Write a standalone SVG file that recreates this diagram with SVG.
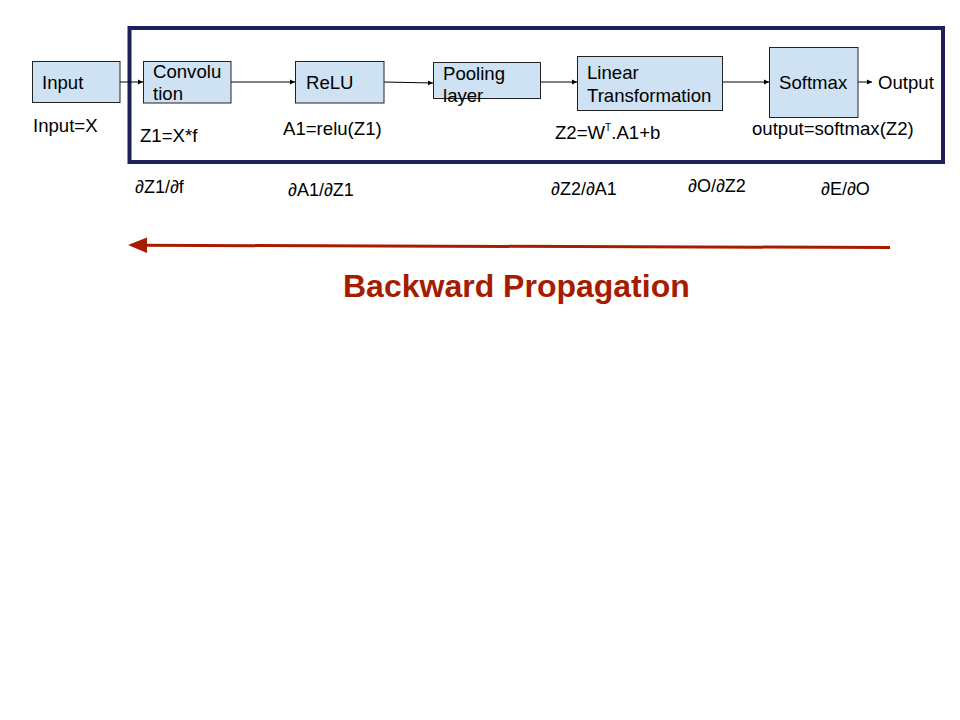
<svg xmlns="http://www.w3.org/2000/svg" width="960" height="720" viewBox="0 0 960 720">
<defs>
<style>
.box{fill:#cfe2f3;stroke:#222;stroke-width:1}
.t{font-family:"Liberation Sans",Arial,sans-serif;font-size:18.6px;fill:#000}
.d{font-family:"Liberation Sans",Arial,sans-serif;font-size:18px;fill:#000}
.c{stroke:#000;stroke-width:1;fill:none;marker-end:url(#ah)}
</style>
<marker id="ah" markerWidth="6" markerHeight="6" refX="5" refY="3" orient="auto" markerUnits="userSpaceOnUse">
<path d="M0,0.5 L5,3 L0,5.5 Z" fill="#000"/>
</marker>
</defs>
<rect width="960" height="720" fill="#fff"/>
<rect id="frame" x="129.5" y="28" width="813.5" height="134" fill="none" stroke="#1f1f5a" stroke-width="4"/>
<g id="connectors">
<line class="c" x1="120" y1="82" x2="143" y2="82"/>
<line class="c" x1="231" y1="82" x2="295" y2="82"/>
<line class="c" x1="384" y1="82" x2="433" y2="83"/>
<line class="c" x1="540" y1="82" x2="577" y2="82"/>
<line class="c" x1="723" y1="82" x2="769" y2="82"/>
<line class="c" x1="858" y1="82" x2="872" y2="82"/>
<g id="backward">
<line x1="890" y1="247.5" x2="144" y2="245.3" stroke="#a61c00" stroke-width="3"/>
<polygon points="128,245 147,237.5 147,253" fill="#a61c00"/>
</g>
</g>
<g id="input"><rect class="box" x="32.5" y="61.5" width="87.5" height="41"/><text class="t" x="42" y="89">Input</text></g>
<g id="conv"><rect class="box" x="143.5" y="61.5" width="87.5" height="41.5"/><text class="t" x="153" y="78">Convolu</text><text class="t" x="153" y="100">tion</text></g>
<g id="relu"><rect class="box" x="295.5" y="61.5" width="88.5" height="41.5"/><text class="t" x="306" y="89">ReLU</text></g>
<g id="pool"><rect class="box" x="433.5" y="62.5" width="107" height="36"/><text class="t" x="443" y="80">Pooling</text><text class="t" x="443" y="102">layer</text></g>
<g id="linear"><rect class="box" x="577.5" y="56.5" width="145" height="54"/><text class="t" x="587" y="79">Linear</text><text class="t" x="587" y="102">Transformation</text></g>
<g id="softmax"><rect class="box" x="769.5" y="47.5" width="88.5" height="70"/><text class="t" x="779" y="89">Softmax</text></g>
<g id="output"><text class="t" x="878" y="89">Output</text></g>
<g id="labels">
<text class="t" x="33" y="132">Input=X</text>
<text class="t" x="140" y="142">Z1=X*f</text>
<text class="t" x="283" y="135">A1=relu(Z1)</text>
<text class="t" x="555" y="139">Z2=W<tspan font-size="10" dy="-8">T</tspan><tspan dy="8">.A1+b</tspan></text>
<text class="t" x="752" y="135">output=softmax(Z2)</text>
<text class="d" x="135" y="193">∂Z1/∂f</text>
<text class="d" x="288" y="196">∂A1/∂Z1</text>
<text class="d" x="551" y="195">∂Z2/∂A1</text>
<text class="d" x="688" y="192">∂O/∂Z2</text>
<text class="d" x="821" y="195">∂E/∂O</text>
<text x="343" y="297" font-family="Liberation Sans,Arial,sans-serif" font-size="32" font-weight="bold" fill="#a61c00">Backward Propagation</text>
</g>
</svg>
